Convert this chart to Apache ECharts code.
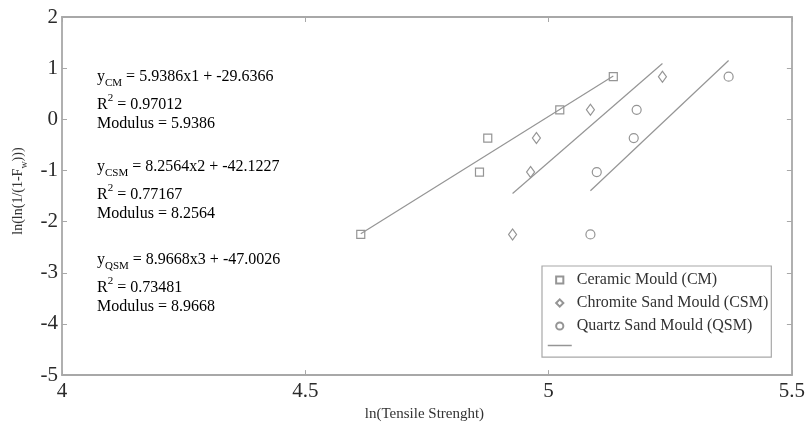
<!DOCTYPE html>
<html>
<head>
<meta charset="utf-8">
<script src="https://cdn.jsdelivr.net/npm/echarts@6/dist/echarts.min.js"></script>
<style>
  html, body { margin: 0; padding: 0; background: #fff; }
  #chart { width: 808px; height: 427px; }
</style>
</head>
<body>
<div id="chart"></div>
<script>
// ln(ln(1/(1-Fw))) for the five ranked samples (same for each mould)
const fwValues = [-2.2504, -1.0309, -0.3665, 0.1856, 0.834]
// ln(tensile strength)
const cmStrength = [4.614, 4.858, 4.875, 5.023, 5.133]
const csmStrength = [4.926, 4.963, 4.975, 5.086, 5.234]
const qsmStrength = [5.086, 5.099, 5.175, 5.181, 5.37]

const mouldNames = ['Ceramic Mould (CM)', 'Chromite Sand Mould (CSM)', 'Quartz Sand Mould (QSM)']
const mouldTags = ['CM', 'CSM', 'QSM']
const mouldSymbols = ['rect', 'diamond', 'circle']
const fitSlopes = [5.9386, 8.2564, 8.9668]
const fitIntercepts = [-29.6366, -42.1227, -47.0026]
const fitR2 = [0.97012, 0.77167, 0.73481]

const xTicks = [4, 4.5, 5, 5.5]
const yTicks = [-5, -4, -3, -2, -1, 0, 1, 2]

const strengths = [cmStrength, csmStrength, qsmStrength]
const FONT = 'Liberation Serif'
const MARK = '#959595'
const FRAME = '#a8a8a8'

// scatter points (as line series with hidden line so the legend icon stays small)
const pointSeries = strengths.map((xs, i) => ({
  name: mouldNames[i],
  type: 'line',
  data: xs.map((x, k) => [x, fwValues[k]]),
  symbol: mouldSymbols[i],
  symbolSize: i === 1 ? [8, 11] : i === 2 ? 9 : 8,
  showSymbol: true,
  lineStyle: { width: 0, opacity: 0 },
  itemStyle: { color: 'rgba(0,0,0,0)', borderColor: MARK, borderWidth: 1.2 },
  animation: false,
  z: 2
}))

// fitted lines, drawn over the range of each data set
const fitSeries = strengths.map((xs, i) => {
  const lo = Math.min(...xs)
  const hi = Math.max(...xs)
  return {
    name: 'fit',
    type: 'line',
    data: [lo, hi].map(x => [x, fitSlopes[i] * x + fitIntercepts[i]]),
    symbol: 'none',
    lineStyle: { color: MARK, width: 1.2 },
    itemStyle: { color: MARK },
    animation: false,
    z: 3
  }
})

// equation annotations
const rich = {
  m: { fontFamily: FONT, fontSize: 16, color: '#3a3a3a', lineHeight: 18, verticalAlign: 'top' },
  s: { fontFamily: FONT, fontSize: 11, color: '#3a3a3a', lineHeight: 12, padding: [9, 0, 0, 0], verticalAlign: 'top' },
  mp: { fontFamily: FONT, fontSize: 16, color: '#3a3a3a', lineHeight: 18, padding: [4, 0, 0, 0], verticalAlign: 'top' },
  p: { fontFamily: FONT, fontSize: 11, color: '#3a3a3a', lineHeight: 12, verticalAlign: 'top' }
}
const blockTops = [78, 168, 261]
const annotations = []
mouldTags.forEach((tag, i) => {
  const c = blockTops[i]
  annotations.push({
    type: 'text', x: 97, y: c - 9,
    style: { text: `{m|y}{s|${tag}}{m| = ${fitSlopes[i].toFixed(4)}x${i + 1} + ${fitIntercepts[i].toFixed(4)}}`, rich }
  })
  annotations.push({
    type: 'text', x: 97, y: c + 28 - 13,
    style: { text: `{mp|R}{p|2}{mp| = ${fitR2[i].toFixed(5)}}`, rich }
  })
  annotations.push({
    type: 'text', x: 97, y: c + 47 - 9,
    style: { text: `{m|Modulus = ${fitSlopes[i].toFixed(4)}}`, rich }
  })
})

const tickLabel = { fontFamily: FONT, fontSize: 21, color: '#2a2a2a' }
const axisBase = {
  type: 'value',
  axisLine: { show: true, onZero: false, lineStyle: { color: FRAME, width: 1.8 } },
  axisTick: { show: true, inside: true, length: 5, lineStyle: { color: FRAME } },
  splitLine: { show: false }
}

const chart = echarts.init(document.getElementById('chart'), null, { renderer: 'canvas' })
chart.setOption({
  backgroundColor: '#fff',
  animation: false,
  grid: { left: 62, right: 16, top: 17, bottom: 43 },
  xAxis: [
    {
      ...axisBase,
      min: xTicks[0], max: xTicks[xTicks.length - 1], interval: 0.5,
      axisLabel: { ...tickLabel, margin: 6, formatter: v => String(v) },
      name: 'ln(Tensile Strenght)',
      nameLocation: 'middle',
      nameGap: 30,
      nameTextStyle: { fontFamily: FONT, fontSize: 15, color: '#333', padding: [0, 5, 0, 0] }
    },
    {
      ...axisBase,
      position: 'top',
      min: xTicks[0], max: xTicks[xTicks.length - 1], interval: 0.5,
      axisLabel: { show: false }
    }
  ],
  yAxis: [
    {
      ...axisBase,
      min: yTicks[0], max: yTicks[yTicks.length - 1], interval: 1,
      axisLabel: { ...tickLabel, margin: 4 },
      name: '{t|ln(ln(1/(1-F}{w|w}{t|)))}',
      nameLocation: 'middle',
      nameGap: 35,
      nameTextStyle: {
        padding: [0, 0, 0, 10],
        rich: {
          t: { fontFamily: FONT, fontSize: 14, color: '#333', lineHeight: 16, verticalAlign: 'top' },
          w: { fontFamily: FONT, fontSize: 10, color: '#333', lineHeight: 10, padding: [8, 0, 0, 0], verticalAlign: 'top' }
        }
      }
    },
    {
      ...axisBase,
      position: 'right',
      min: yTicks[0], max: yTicks[yTicks.length - 1], interval: 1,
      axisLabel: { show: false }
    }
  ],
  legend: {
    orient: 'vertical',
    left: 542,
    top: 266,
    data: mouldNames.map(name => ({ name })).concat([{
      name: 'fit',
      itemStyle: { color: 'rgba(0,0,0,0)', borderColor: 'rgba(0,0,0,0)', borderWidth: 0 },
      lineStyle: { color: MARK, width: 1.5 }
    }]),
    formatter: name => (name === 'fit' ? '' : name),
    backgroundColor: '#fff',
    borderColor: FRAME,
    borderWidth: 1.2,
    padding: [6, 3, 8, 5],
    itemWidth: 24,
    itemHeight: 9,
    itemGap: 7,
    textStyle: { fontFamily: FONT, fontSize: 16, color: '#333' }
  },
  series: pointSeries.concat(fitSeries),
  graphic: annotations
})
</script>
</body>
</html>
